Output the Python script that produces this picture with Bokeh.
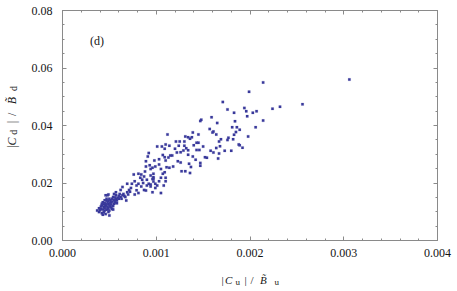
import math
from bokeh.plotting import figure
from bokeh.layouts import row, column
from bokeh.models import (Range1d, LinearAxis, SingleIntervalTicker, NumeralTickFormatter,
                          CustomJSTickFormatter, Label, ColumnDataSource)
from bokeh.embed import file_html
from bokeh.resources import INLINE

# ---- data ----
cu_over_bu = [
    0.00306, 0.00214, 0.00199, 0.00256, 0.00232, 0.00224, 0.00171, 0.00176, 0.00183, 0.00194,
    0.00196, 0.00203, 0.00207, 0.00197, 0.00214, 0.00206, 0.00198, 0.00184, 0.00181, 0.00186,
    0.00189, 0.00185, 0.00183, 0.00177, 0.00182, 0.00188, 0.00189, 0.00192, 0.00180, 0.00173,
    0.00176, 0.00159, 0.00165, 0.00148, 0.00147, 0.00157, 0.00161, 0.00160, 0.00164, 0.00169,
    0.00167, 0.00168, 0.00164, 0.00158, 0.00161, 0.00167, 0.00166, 0.00154, 0.00152, 0.00150,
    0.00145, 0.00139, 0.00145, 0.00143, 0.00140, 0.00134, 0.00131, 0.00138, 0.00136, 0.00130,
    0.00125, 0.00121, 0.00124, 0.00130, 0.00132, 0.00134, 0.00129, 0.00126, 0.00122, 0.00146,
    0.00147, 0.00147, 0.00137, 0.00131, 0.00127, 0.00136, 0.00135, 0.00126, 0.00123, 0.00112,
    0.00101, 0.00106, 0.00110, 0.00109, 0.00114, 0.00115, 0.00117, 0.00113, 0.00109, 0.00107,
    0.00110, 0.00103, 0.00098, 0.00118, 0.00114, 0.00111, 0.00109, 0.00105, 0.00099, 0.00103,
    0.00096, 0.00107, 0.00110, 0.00110, 0.00105, 0.00103, 0.00108, 0.00097, 0.00097, 0.00096,
    0.00097, 0.00094, 0.00094, 0.00105, 0.00099, 0.00120, 0.00134, 0.00143, 0.00142, 0.00139,
    0.00089, 0.00089, 0.00092, 0.00091, 0.00094, 0.00093, 0.00090, 0.00090, 0.00092, 0.00094,
    0.00097, 0.00099, 0.00101, 0.00096, 0.00089, 0.00087, 0.00081, 0.00077, 0.00081, 0.00079,
    0.00077, 0.00074, 0.00069, 0.00076, 0.00081, 0.00083, 0.00085, 0.00084, 0.00087, 0.00073,
    0.00071, 0.00069, 0.00064, 0.00062, 0.00057, 0.00065, 0.00067, 0.00068, 0.00064, 0.00062,
    0.00061, 0.00060, 0.00058, 0.00057, 0.00057, 0.00056, 0.00055, 0.00055, 0.00054, 0.00053,
    0.00052, 0.00051, 0.00050, 0.00049, 0.00049, 0.00049, 0.00048, 0.00048, 0.00047, 0.00046,
    0.00046, 0.00045, 0.00044, 0.00043, 0.00042, 0.00042, 0.00041, 0.00039, 0.00037, 0.00040,
    0.00041, 0.00043, 0.00044, 0.00044, 0.00045, 0.00045, 0.00046, 0.00046, 0.00047, 0.00047,
    0.00047, 0.00048, 0.00048, 0.00049, 0.00049, 0.00050, 0.00050, 0.00051, 0.00051, 0.00052,
    0.00052, 0.00053, 0.00053, 0.00054, 0.00055, 0.00056, 0.00056, 0.00058, 0.00059, 0.00060,
    0.00063, 0.00066, 0.00070, 0.00072, 0.00043, 0.00050, 0.00045, 0.00042, 0.00039, 0.00054,
    0.00084, 0.00086, 0.00079, 0.00088,
]
cd_over_bd = [
    0.0560, 0.0550, 0.0517, 0.0474, 0.0465, 0.0458, 0.0482, 0.0456, 0.0444, 0.0461,
    0.0450, 0.0444, 0.0450, 0.0432, 0.0417, 0.0394, 0.0362, 0.0415, 0.0394, 0.0394,
    0.0385, 0.0377, 0.0368, 0.0357, 0.0352, 0.0334, 0.0331, 0.0323, 0.0312, 0.0312,
    0.0350, 0.0429, 0.0409, 0.0420, 0.0416, 0.0388, 0.0379, 0.0376, 0.0369, 0.0352,
    0.0344, 0.0328, 0.0322, 0.0312, 0.0306, 0.0303, 0.0285, 0.0288, 0.0290, 0.0327,
    0.0369, 0.0376, 0.0340, 0.0340, 0.0331, 0.0359, 0.0362, 0.0359, 0.0354, 0.0344,
    0.0344, 0.0344, 0.0330, 0.0330, 0.0321, 0.0314, 0.0313, 0.0307, 0.0306, 0.0315,
    0.0270, 0.0260, 0.0256, 0.0241, 0.0241, 0.0235, 0.0267, 0.0271, 0.0276, 0.0369,
    0.0327, 0.0327, 0.0334, 0.0319, 0.0330, 0.0296, 0.0296, 0.0289, 0.0290, 0.0297,
    0.0278, 0.0283, 0.0278, 0.0257, 0.0253, 0.0255, 0.0237, 0.0249, 0.0257, 0.0264,
    0.0253, 0.0232, 0.0218, 0.0206, 0.0218, 0.0206, 0.0191, 0.0232, 0.0220, 0.0214,
    0.0205, 0.0195, 0.0188, 0.0165, 0.0183, 0.0319, 0.0298, 0.0315, 0.0281, 0.0292,
    0.0257, 0.0276, 0.0304, 0.0292, 0.0249, 0.0262, 0.0211, 0.0191, 0.0197, 0.0226,
    0.0215, 0.0197, 0.0191, 0.0168, 0.0174, 0.0176, 0.0165, 0.0160, 0.0197, 0.0191,
    0.0206, 0.0197, 0.0197, 0.0230, 0.0232, 0.0218, 0.0211, 0.0230, 0.0223, 0.0183,
    0.0176, 0.0168, 0.0186, 0.0176, 0.0168, 0.0162, 0.0151, 0.0139, 0.0157, 0.0151,
    0.0162, 0.0145, 0.0139, 0.0157, 0.0145, 0.0139, 0.0128, 0.0162, 0.0151, 0.0110,
    0.0133, 0.0118, 0.0145, 0.0099, 0.0128, 0.0160, 0.0110, 0.0157, 0.0139, 0.0125,
    0.0157, 0.0104, 0.0116, 0.0133, 0.0122, 0.0095, 0.0110, 0.0099, 0.0104, 0.0105,
    0.0118, 0.0108, 0.0125, 0.0098, 0.0113, 0.0130, 0.0120, 0.0092, 0.0107, 0.0125,
    0.0145, 0.0117, 0.0133, 0.0112, 0.0138, 0.0122, 0.0104, 0.0130, 0.0140, 0.0115,
    0.0125, 0.0136, 0.0145, 0.0120, 0.0140, 0.0132, 0.0150, 0.0130, 0.0148, 0.0155,
    0.0145, 0.0155, 0.0160, 0.0170, 0.0090, 0.0087, 0.0140, 0.0128, 0.0112, 0.0108,
    0.0188, 0.0200, 0.0175, 0.0240,
]
x_ticks_interval = 0.001
y_ticks_interval = 0.02
panel_tag = "(d)"
x_title = [("|", False, False), ("C", True, False), ("u", False, True), ("|", False, False),
           ("/", False, False), ("B\u0303", True, False), ("u", False, True)]
y_title = [("|", False, False), ("C", True, False), ("d", False, True), ("|", False, False),
           ("/", False, False), ("B\u0303", True, False), ("d", False, True)]

AX = "#8a8a8a"
TXT = "#151515"
PT = "#3a3a9c"
SERIF = "Liberation Serif"

YT_W = 26          # width of the strip holding the y title
MAIN_H = 264       # height of the main plot canvas
XT_H = 27          # height of the strip holding the x title
TOTAL_W = 457

p = figure(width=TOTAL_W - YT_W, height=MAIN_H, output_backend="svg", toolbar_location=None,
           x_range=Range1d(0, 0.004), y_range=Range1d(0, 0.08),
           min_border_left=62 - YT_W, min_border_right=20, min_border_top=10, min_border_bottom=24,
           background_fill_color="white", border_fill_color="white")
p.grid.grid_line_color = None
p.outline_line_color = AX

xt = SingleIntervalTicker(interval=x_ticks_interval, num_minor_ticks=5)
yt = SingleIntervalTicker(interval=y_ticks_interval, num_minor_ticks=4)


def style(ax):
    ax.axis_line_color = AX
    ax.major_tick_line_color = AX
    ax.minor_tick_line_color = AX
    ax.major_tick_in = 4
    ax.major_tick_out = 0
    ax.minor_tick_in = 2
    ax.minor_tick_out = 0
    ax.major_label_text_font = SERIF
    ax.major_label_text_font_size = "12px"
    ax.major_label_text_color = TXT


xa = p.xaxis[0]
ya = p.yaxis[0]
style(xa); style(ya)
xa.ticker = xt
ya.ticker = yt
xa.formatter = NumeralTickFormatter(format="0.000")
ya.formatter = NumeralTickFormatter(format="0.00")
xa.major_label_standoff = 8
ya.major_label_standoff = 10

top = LinearAxis(ticker=xt, formatter=CustomJSTickFormatter(code="return ''"))
right = LinearAxis(ticker=yt, formatter=CustomJSTickFormatter(code="return ''"))
for ax in (top, right):
    style(ax)
    ax.major_label_standoff = 0
    ax.major_label_text_font_size = "1px"
p.add_layout(top, "above")
p.add_layout(right, "right")

src = ColumnDataSource(dict(x=cu_over_bu, y=cd_over_bd))
p.scatter("x", "y", source=src, marker="square", size=2.5,
          fill_color=PT, line_color=PT, line_width=0.3, line_alpha=0.5)

p.add_layout(Label(x=0, y=0.08, x_offset=34.5, y_offset=-30, text=panel_tag,
                   text_font=SERIF, text_font_size="12px", text_color=TXT,
                   text_align="center", text_baseline="middle"))


def strip(w, h):
    f = figure(width=w, height=h, output_backend="svg", toolbar_location=None,
               x_range=Range1d(0, w), y_range=Range1d(0, h),
               x_axis_location=None, y_axis_location=None, min_border=0,
               outline_line_color=None, background_fill_color="white",
               border_fill_color="white")
    f.grid.visible = False
    return f


# x title strip (below the plot, full width); positions are in strip pixels
xs = strip(TOTAL_W, XT_H)
x_pos = [221, 224.5, 235, 244, 250, 259.5, 274]
for (t, it, sub), px in zip(x_title, x_pos):
    xs.add_layout(Label(x=px, y=(XT_H - 17) if sub else (XT_H - 15), text=t,
                        text_font=SERIF, text_font_size="9px" if sub else "11px",
                        text_font_style="italic" if it else "normal", text_color=TXT,
                        text_align="left", text_baseline="alphabetic"))

# y title strip (left of the plot), rotated text
ys = strip(YT_W, MAIN_H)
y_pos = [157.5, 155, 142.5, 129.5, 121, 107.5, 92.5]
for (t, it, sub), py in zip(y_title, y_pos):
    ys.add_layout(Label(x=13 if sub else 11, y=MAIN_H - py, text=t, angle=math.pi / 2,
                        text_font=SERIF, text_font_size="10px" if sub else "12px",
                        text_font_style="italic" if it else "normal", text_color=TXT,
                        text_align="left", text_baseline="alphabetic"))

layout = column(row(ys, p, spacing=0), xs, spacing=0)
open("out.html", "w").write(file_html(layout, INLINE))
